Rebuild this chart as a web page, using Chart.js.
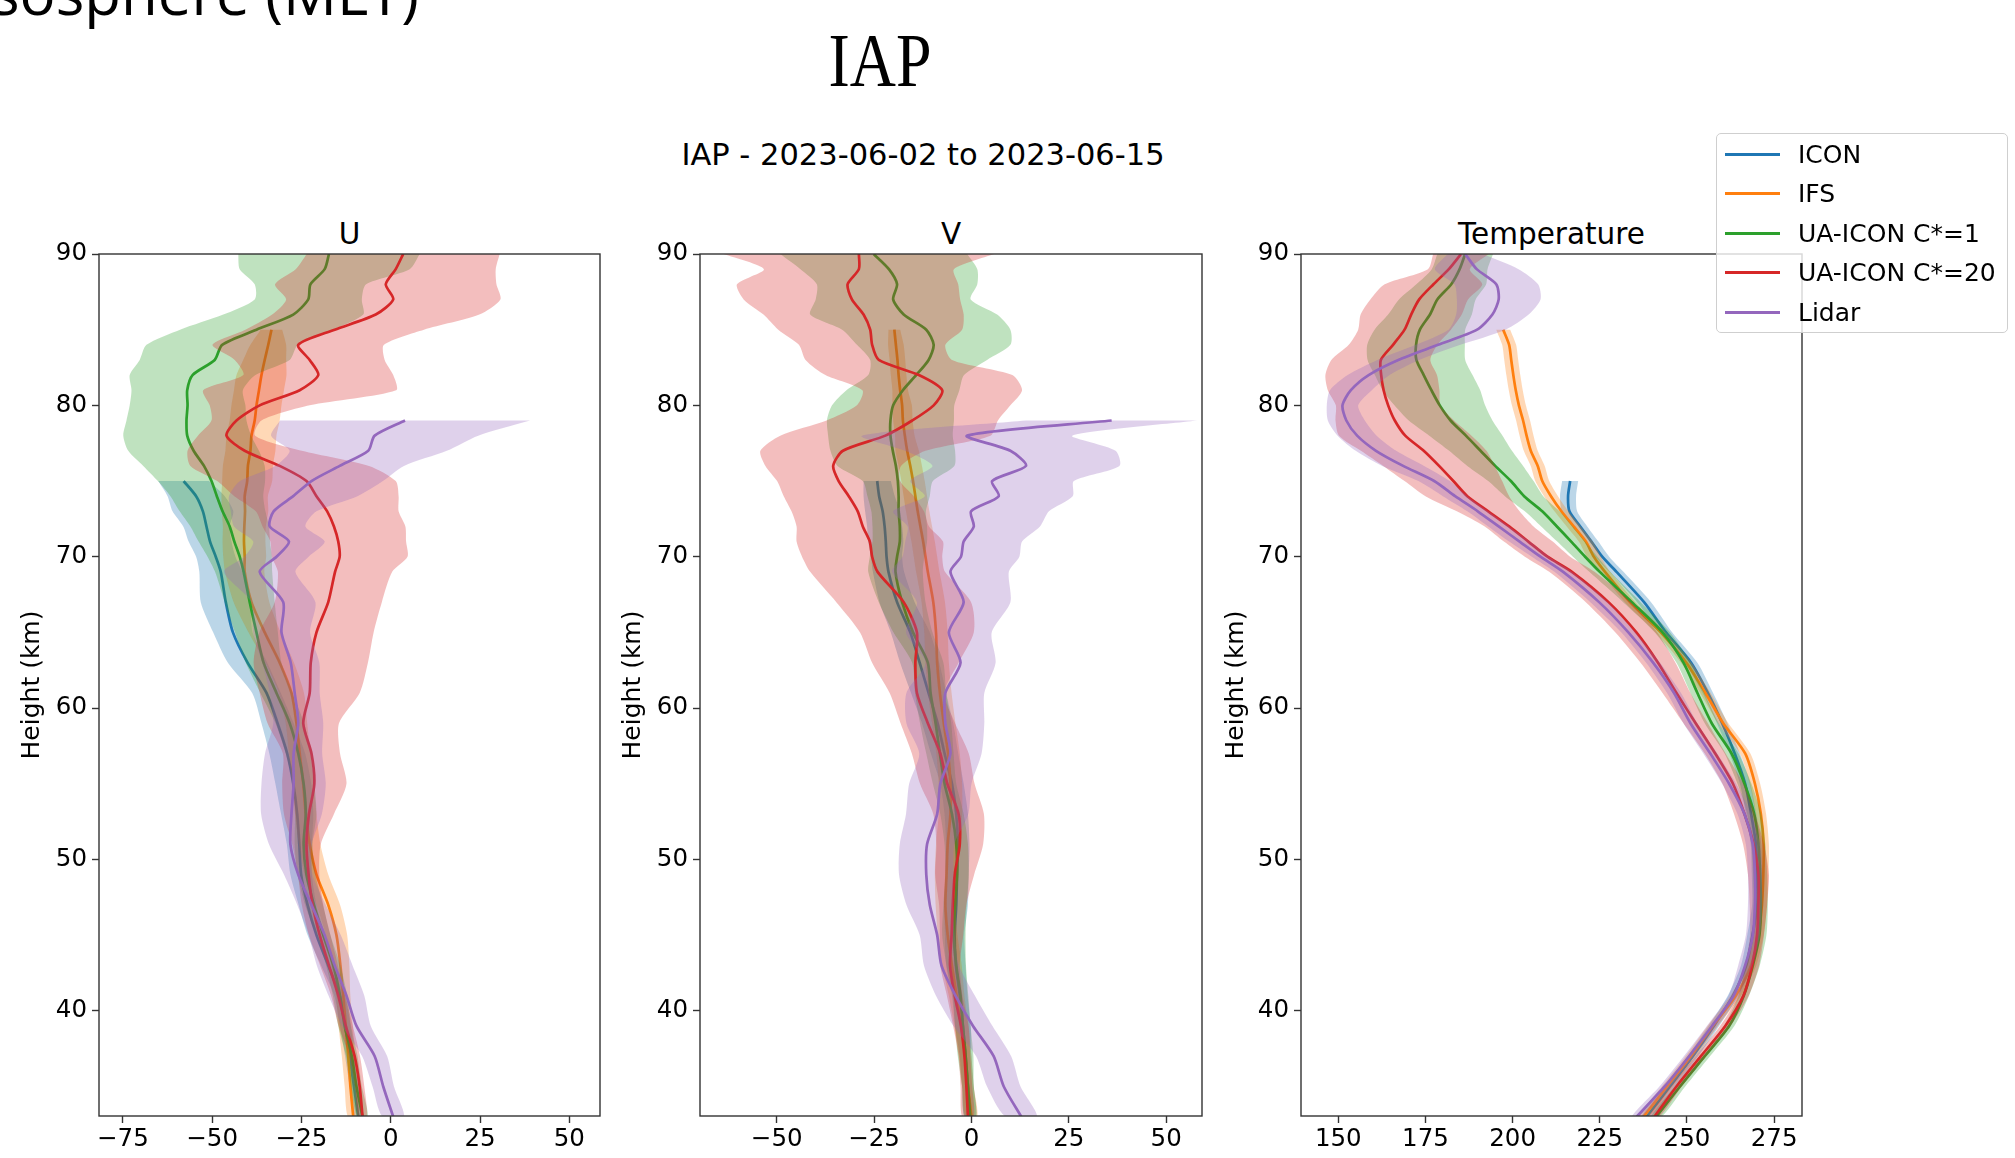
<!DOCTYPE html>
<html>
<head>
<meta charset="utf-8">
<script src="https://cdn.jsdelivr.net/npm/chart.js@4.4.1/dist/chart.umd.min.js"></script>
<style>
  html, body { margin: 0; padding: 0; background: #fff; }
  body { position: relative; width: 2015px; height: 1158px; overflow: hidden; font-family: "DejaVu Sans", sans-serif; }
  canvas { position: absolute; }
  .t { position: absolute; white-space: nowrap; color: #000; line-height: 1; }
  .c { transform: translateX(-50%); }
  #legend { position: absolute; left: 1716px; top: 133px; width: 292px; height: 200px; box-sizing: border-box;
            border: 1.3px solid #cfcfcf; border-radius: 5px; background: rgba(255,255,255,0.8); }
  .lh { position: absolute; left: 1725px; width: 55px; height: 3px; }
  .lt { position: absolute; left: 1798px; font-size: 25px; line-height: 1; white-space: nowrap; }
</style>
</head>
<body>
<div class="t" style="right:1596px; top:-38px; font-family:'Open Sans'; font-size:60px;">Mesosphere (MLT)</div>
<div class="t" style="left:880px; top:22px; font-family:'Liberation Serif'; font-size:77px; transform:translateX(-50%) scaleX(0.83);">IAP</div>
<div class="t c" style="left:923px; top:140px; font-size:30.5px;">IAP - 2023-06-02 to 2023-06-15</div>
<div class="t c" style="left:349.5px; top:220px; font-size:29.5px;">U</div>
<div class="t c" style="left:951px; top:220px; font-size:29.5px;">V</div>
<div class="t c" style="left:1551.5px; top:220px; font-size:29.5px;">Temperature</div>

<canvas id="cU" width="640" height="958" style="left:0px; top:200px;"></canvas>
<canvas id="cV" width="640" height="958" style="left:600px; top:200px;"></canvas>
<canvas id="cT" width="640" height="958" style="left:1200px; top:200px;"></canvas>

<div id="legend"></div>
<div id="legendItems"></div>

<script>
// ---------------- DATA ----------------
const N = null;
// heights (km), top to bottom
const H = [90,89,88,87,86,85,84,83,82,81,80,79,78,77,76,75,74,73,72,71,70,69,67,65,63,61,59,57,55,53,51,49,47,45,43,41,39,37,35,33];

const SERIES = ['ICON', 'IFS', 'UA-ICON C*=1', 'UA-ICON C*=20', 'Lidar'];

const X_TICKS_U = [-75, -50, -25, 0, 25, 50];
const X_TICKS_V = [-50, -25, 0, 25, 50];
const X_TICKS_T = [150, 175, 200, 225, 250, 275];
const Y_TICKS = [40, 50, 60, 70, 80, 90];

// ---- U (zonal wind, m/s): mean and spread ----
const U_ICON = [N,N,N,N,N,N,N,N,N,N,N,N,N,N,N, -58.0,-54.5,-52.6,-51.6,-50.6,-49.0, -47.6,-46.2,-44.2,-40.1,-34.8,-31.7,-29.0,-27.3,-26.2,-25.6,-25.1,-23.3,-20.8,-17.5,-14.3,-12.7,-11.5,-10.3,-9.1];
const U_ICON_SD = [N,N,N,N,N,N,N,N,N,N,N,N,N,N,N, 7.1,8,8.5,6.5,6,5.5, 6,7,5.5,5.5,4,4.5,5,5,4.5,3.5,3,2.5,2.5,2,1.5,1.5,1.3,1.2,1.2];
const U_IFS = [N,N,N,N,N, -33.4,-34.3,-35.3,-36.2,-36.9,-37.6,-38.1,-39.0,-39.3,-40.0,-40.2,-40.9,-40.8,-41.0,-41.1,-40.9, -40.9,-39.0,-35.3,-31.1,-27.8,-26.4,-25.5,-24.5,-23.8,-22.7,-20.8,-17.5,-15.2,-14.1,-13.3,-12.6,-11.9,-11.3,-10.5];
const U_IFS_SD = [N,N,N,N,N, 3,5,6,7,7,7,7,7,7,7,7,6.5,6.5,6,6,6, 5.5,5,4.5,4,3.5,3,3,3,3,3,3.3,3.3,3,2.5,2,2,1.8,1.6,1.5];
const U_C1 = [-17.3,-18.5,-22.5,-23.1,-27.3,-37.6,-47.2,-49.3,-55.5,-57.0,-56.9,-57.2,-57.0,-55.2,-52.3,-50.2,-48.7,-47.1,-45.1,-43.8,-42.3, -41.2,-39.5,-37.6,-35.6,-32.0,-28.3,-25.9,-24.4,-23.8,-24.4,-23.6,-21.5,-18.9,-16.1,-14.2,-12.9,-10.9,-9.6,-7.9];
const U_C1_SD = [25.4,23.8,15.6,15,19.6,21.4,21.2,21,17.6,15.6,16.2,16.8,17.9,18.3,17,15,13,12,11,10,9, 8,7,6,5,4.5,4,3.5,3,3,2.5,2.5,2.5,2,2,2,1.8,1.6,1.5,1.5];
const U_C20 = [3.5,1.4,-1.4,0.7,-4.2,-15.7,-25.9,-22.7,-20.3,-25.5,-36.7,-43.2,-46.0,-40.9,-31.1,-23.6,-20.8,-17.8,-15.9,-14.7,-14.3, -15.6,-17.5,-20.8,-22.4,-22.7,-24.5,-22.2,-21.4,-22.9,-23.6,-23.0,-21.9,-19.9,-17.3,-14.7,-12.6,-10.1,-8.7,-7.9];
const U_C20_SD = [27,28,31,30,29,25,24,21,21,27,14,7,8,16,25,25,23,20,20,19,19, 16,15,16,16,14,10,8,9,7,4,3,3,3,2.5,2,2,1.5,1.3,1.2];
const U_LID = [N,N,N,N,N,N,N,N,N,N,N, 4.0,-4.5,-6.3,-14.3,-22.2,-27.3,-32.8,-33.9,-28.5,-32.0, -36.7,-30.1,-30.6,-28.0,-26.9,-25.9,-27.2,-27.2,-27.8,-28.1,-25.9,-22.2,-18.5,-15.7,-12.4,-9.6,-4.5,-2.1,0.7];
const U_LID_SD = [N,N,N,N,N,N,N,N,N,N,N, 35,29,22,18,20,18,12,10,10,9, 10,9,8,8,7,7,8,9,8.5,6,4,4,4.5,5,5,4,3.5,3,3];

// ---- V (meridional wind, m/s) ----
const V_ICON = [N,N,N,N,N,N,N,N,N,N,N,N,N,N,N, -24.2,-23.7,-22.8,-22.3,-22.0,-21.8, -21.3,-19.1,-15.7,-13.3,-11.0,-8.7,-6.9,-5.0,-3.9,-3.5,-3.7,-3.9,-4.3,-4.0,-3.0,-2.2,-1.5,-0.9,-0.3];
const V_ICON_SD = [N,N,N,N,N,N,N,N,N,N,N,N,N,N,N, 3.5,4,4.5,4.5,4.5,4, 4,4.5,5,5,4.5,4,3.5,3,3,3,3,3,2.5,2.5,2,2,1.5,1.5,1.5];
const V_IFS = [N,N,N,N,N, -19.8,-19.4,-19.0,-18.7,-18.3,-17.8,-17.6,-17.1,-16.5,-15.7,-15.0,-14.4,-13.8,-13.1,-12.4,-11.8, -11.2,-9.8,-9.1,-8.8,-8.1,-7.1,-6.0,-5.4,-5.4,-6.1,-6.4,-6.7,-6.1,-5.0,-3.8,-2.6,-1.6,-0.9,0.0];
const V_IFS_SD = [N,N,N,N,N, 1.5,2,2,2,2,2.5,2.5,2.5,3,3,3,3,3,3,3,3, 3,3,3,3,3,3,3,3,3,3,3,2.5,2.5,2.5,2,1.8,1.6,1.5,1.5];
const V_C1 = [-25.1,-21.2,-19.1,-20.1,-17.4,-11.6,-9.7,-11.0,-14.2,-17.6,-20.1,-20.8,-20.8,-20.2,-19.4,-18.9,-18.7,-18.7,-18.4,-18.4,-19.1, -19.5,-17.8,-15.0,-11.2,-10.5,-9.2,-8.1,-6.9,-5.0,-3.9,-3.7,-4.2,-4.5,-3.9,-2.8,-2.2,-1.5,-0.9,-0.3];
const V_C1_SD = [24,22.7,20.6,19.9,24,21.6,19.7,15,12.3,14.5,15.7,16.3,16,16,15,9,8,7,7,7,7, 7,6,5,4,4,4,3.5,3,3,3,3,3,3,2.5,2,2,2,1.5,1.5];
const V_C20 = [-28.9,-28.9,-31.8,-30.7,-27.7,-26.0,-25.5,-23.8,-13.5,-7.5,-9.7,-15.2,-22.1,-33.0,-35.5,-34.1,-31.5,-29.2,-27.9,-26.1,-25.5, -24.1,-17.4,-14.0,-14.4,-14.0,-11.2,-8.0,-6.2,-3.3,-3.0,-4.3,-4.8,-5.1,-5.5,-4.3,-2.7,-1.8,-1.3,-0.9];
const V_C20_SD = [34.7,24.4,28.4,27.8,25.7,23.6,18.8,18.8,24,20.5,19.7,22,27,21.2,17.4,15.8,16.7,17,17,18.8,18, 17.3,17.3,14.6,11.1,7,7,7.3,7,6.5,6,5,3.5,3,2.5,2,2,1.5,1.5,1.5];
const V_LID = [N,N,N,N,N,N,N,N,N,N,N, 36.0,-1.1,10.0,14.0,5.3,7.0,-0.1,0.6,-2.0,-2.7, -5.4,-2.0,-5.8,-2.8,-6.7,-6.7,-5.4,-8.0,-8.8,-11.4,-11.6,-10.7,-8.8,-7.7,-4.1,0.4,5.7,8.3,12.8];
const V_LID_SD = [N,N,N,N,N,N,N,N,N,N,N, 22,27,27,24,21,19,20,17,15,15, 15,12,11,9,10,10,8,8,8,7,7,6,4.5,4.5,5,5,4.5,4.3,4];

// ---- Temperature (K) ----
const T_ICON = [N,N,N,N,N,N,N,N,N,N,N,N,N,N,N, 216.5,215.9,216.3,219.4,222.6,225.7, 229.8,237.7,244.0,251.2,256.0,260.1,263.7,266.7,268.4,269.8,270.1,270.2,268.8,267.0,263.2,257.7,251.7,245.1,238.4];
const T_ICON_SD = [N,N,N,N,N,N,N,N,N,N,N,N,N,N,N, 2.3,2.3,2.2,2,2,2, 2,2,1.8,1.8,1.5,1.5,1.5,1.5,1.5,1.5,1.5,1.5,1.5,1.5,1.5,1.5,1.5,1.5,1.5];
const T_IFS = [N,N,N,N,N, 197.3,199.0,199.6,200.2,200.9,201.8,203.0,204.0,205.2,207.2,208.5,211.0,214.0,217.5,221.0,223.3, 226.5,233.7,242.5,249.8,255.3,260.4,266.7,269.5,271.2,272.0,271.9,271.5,270.5,268.4,264.0,257.4,251.1,244.3,237.5];
const T_IFS_SD = [N,N,N,N,N, 2,2,2,2,2,2,2,2,2,2,2,2,2,2,2,2, 1.5,1.5,1.5,1.5,1.5,1.5,1.5,1.5,1.5,1.5,1.5,1.5,1.5,1.5,1.5,1.5,1.5,1.5,1.5];
const T_C1 = [186.4,184.8,182.4,178.4,176.3,173.4,172.3,172.4,174.5,176.7,179.1,182.2,186.6,190.8,195.0,199.5,203.3,208.5,212.7,216.8,220.8, 225.0,234.2,243.0,249.0,253.0,257.1,262.8,266.5,269.3,270.5,271.0,271.2,270.8,268.9,266.3,262.1,255.1,248.0,241.2];
const T_C1_SD = [8,8,10,11,12,13,14,14,14,14,13,12,10.5,9,8,6.5,5.5,5,4.5,4,3.5, 3,2.5,2.2,2,2,2,2,2,2,2,2,2,2,2,1.5,1.5,1.5,1.5,1.5];
const T_C20 = [185.2,181.7,177.3,173.2,170.9,169.0,165.7,162.2,162.3,163.0,164.3,166.2,169.2,174.5,178.9,183.0,187.0,193.0,199.0,204.5,210.0, 217.0,227.5,235.5,241.7,247.0,252.5,258.1,263.2,266.5,269.1,270.5,270.5,270.1,268.7,266.2,261.0,254.0,247.0,240.6];
const T_C20_SD = [8,6,14,14,14.5,13.3,12.7,14.2,16,16,15,17,19,18,16,14,12,9,7,7,6.5, 6.5,6.5,6,5,4,3.5,3,3,3,3,3,2.5,2,2,1.5,1.5,1.5,1.5,1.5];
const T_LID = [186.4,189.7,195.3,196.0,194.2,189.8,178.6,167.2,158.7,153.6,151.2,152.3,155.4,160.8,168.6,177.5,183.5,190.0,196.0,202.0,208.0, 214.5,224.8,233.2,240.3,246.3,251.0,256.7,262.1,266.5,268.9,269.5,269.5,268.9,266.7,263.4,257.2,250.6,243.6,235.6];
const T_LID_SD = [5,12,12,12,10.4,8.2,6.4,6,6,6,4.5,5.3,5.6,5.8,6,4.5,3.5,3,3,3,2.5, 2.5,2.5,2,2,2,2,2,2,2,2,2,2,2,2,1.5,1.5,1.5,1.5,1.5];

// ---------------- STYLE / CONFIG ----------------
const COLORS = ['#1f77b4', '#ff7f0e', '#2ca02c', '#d62728', '#9467bd'];
function rgba(hex, a) {
  const n = parseInt(hex.slice(1), 16);
  return `rgba(${(n >> 16) & 255},${(n >> 8) & 255},${n & 255},${a})`;
}
function fmtTick(v) { return v < 0 ? '\u2212' + Math.abs(v) : String(v); }

Chart.defaults.font.family = "'DejaVu Sans'";
Chart.defaults.color = '#000';

const framePlugin = {
  id: 'frame',
  afterDraw(chart) {
    const { ctx, chartArea: a } = chart;
    ctx.save();
    ctx.strokeStyle = '#333';
    ctx.lineWidth = 1.4;
    ctx.strokeRect(a.left, a.top, a.right - a.left, a.bottom - a.top);
    ctx.restore();
  }
};

function buildPanel(canvasId, means, sds, xmin, xmax, xticks, yAxisWidth, titlePadTop, rightPad) {
  const datasets = [];
  let k = 0;
  means.forEach((m, si) => {
    const sd = sds[si];
    const lo = [], hi = [], line = [];
    H.forEach((h, i) => {
      if (m[i] === null) return;
      lo.push({ x: m[i] - sd[i], y: h });
      hi.push({ x: m[i] + sd[i], y: h });
      line.push({ x: m[i], y: h });
    });
    datasets.push({
      label: SERIES[si] + ' spread',
      data: lo.concat(hi.reverse()),
      showLine: true, fill: 'shape',
      backgroundColor: rgba(COLORS[si], 0.3),
      borderColor: 'rgba(0,0,0,0)', borderWidth: 0,
      pointRadius: 0, tension: 0.25, order: -(k++)
    });
    datasets.push({
      label: SERIES[si],
      data: line,
      showLine: true, fill: false,
      borderColor: COLORS[si], borderWidth: 2.7,
      pointRadius: 0, tension: 0.25, order: -(k++)
    });
  });

  return new Chart(document.getElementById(canvasId), {
    type: 'line',
    data: { datasets },
    options: {
      responsive: false, animation: false, devicePixelRatio: 1, events: [],
      layout: { padding: { top: 54, right: rightPad, left: 0, bottom: 0 } },
      plugins: { legend: { display: false }, tooltip: { enabled: false }, title: { display: false } },
      scales: {
        x: {
          type: 'linear', min: xmin, max: xmax,
          afterBuildTicks: s => { s.ticks = xticks.map(v => ({ value: v })); },
          ticks: { color: '#000', font: { size: 24.5 }, padding: 2, maxRotation: 0, autoSkip: false, callback: v => fmtTick(v) },
          grid: { display: true, drawOnChartArea: false, drawTicks: true, tickLength: 7, tickWidth: 1.4, tickColor: '#333', color: '#333' },
          border: { display: false },
          afterFit: s => { s.height = 42; }
        },
        y: {
          type: 'linear', min: 33.05, max: 90,
          afterBuildTicks: s => { s.ticks = Y_TICKS.map(v => ({ value: v })); },
          ticks: { color: '#000', font: { size: 24.5 }, padding: 5, callback: v => fmtTick(v) },
          grid: { display: true, drawOnChartArea: false, drawTicks: true, tickLength: 7, tickWidth: 1.4, tickColor: '#333', color: '#333' },
          border: { display: false },
          title: { display: true, text: 'Height (km)', color: '#000', font: { size: 25 }, padding: { top: titlePadTop, bottom: 0 } },
          afterFit: s => { s.width = yAxisWidth; }
        }
      }
    },
    plugins: [framePlugin]
  });
}

buildPanel('cU', [U_ICON, U_IFS, U_C1, U_C20, U_LID], [U_ICON_SD, U_IFS_SD, U_C1_SD, U_C20_SD, U_LID_SD],
           -81.7, 58.6, X_TICKS_U, 99, 17, 40);
buildPanel('cV', [V_ICON, V_IFS, V_C1, V_C20, V_LID], [V_ICON_SD, V_IFS_SD, V_C1_SD, V_C20_SD, V_LID_SD],
           -69.7, 59.2, X_TICKS_V, 100, 18.5, 38);
buildPanel('cT', [T_ICON, T_IFS, T_C1, T_C20, T_LID], [T_ICON_SD, T_IFS_SD, T_C1_SD, T_C20_SD, T_LID_SD],
           139.3, 283, X_TICKS_T, 101, 21, 38);

// legend (HTML)
const legendRoot = document.getElementById('legendItems');
SERIES.forEach((name, i) => {
  const baseline = 163 + i * 39.5;
  const h = document.createElement('div');
  h.className = 'lh';
  h.style.top = (baseline - 9 - 1.5) + 'px';
  h.style.background = COLORS[i];
  legendRoot.appendChild(h);
  const t = document.createElement('div');
  t.className = 'lt';
  t.style.top = (baseline - 0.846 * 25) + 'px';
  t.textContent = name;
  legendRoot.appendChild(t);
});
</script>
</body>
</html>
